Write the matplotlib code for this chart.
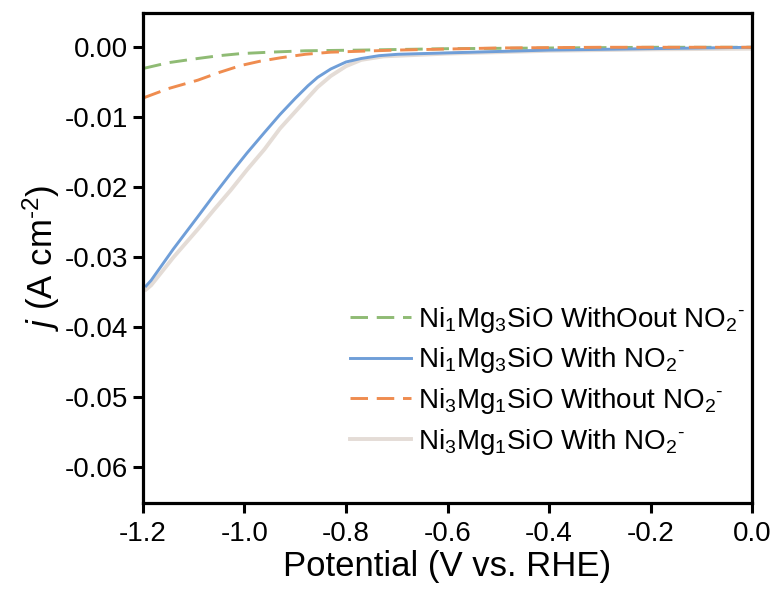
import matplotlib
matplotlib.use("Agg")
import matplotlib.pyplot as plt
import numpy as np

plt.rcParams["font.family"] = ["Liberation Sans", "DejaVu Sans"]
plt.rcParams["mathtext.fontset"] = "custom"
plt.rcParams["mathtext.rm"] = "Liberation Sans"
plt.rcParams["mathtext.it"] = "Liberation Sans:italic"

# Ni1Mg3SiO with NO2- (blue)
pot_blue = [-1.194, -1.184, -1.14, -1.092, -1.06, -1.027, -0.995, -0.961, -0.93, -0.90,
            -0.875, -0.856, -0.83, -0.80, -0.77, -0.735, -0.698, -0.6, -0.5, -0.4,
            -0.3, -0.2, -0.1, 0.0]
j_blue = [-0.0341, -0.0333, -0.0288, -0.0242, -0.0211, -0.0180, -0.0151, -0.0122,
          -0.0096, -0.0073, -0.0055, -0.0043, -0.0031, -0.0021, -0.0016, -0.0012,
          -0.0010, -0.0008, -0.0006, -0.0004, -0.0003, -0.0002, -0.0001, 0.0]

# Ni3Mg1SiO with NO2- (grey)
pot_grey = [-1.194, -1.184, -1.14, -1.092, -1.06, -1.027, -0.995, -0.961, -0.93, -0.90,
            -0.875, -0.856, -0.83, -0.80, -0.77, -0.726, -0.6, -0.4, -0.2, 0.0]
j_grey = [-0.0346, -0.0340, -0.0300, -0.0260, -0.0232, -0.0204, -0.0175, -0.0146,
          -0.0116, -0.0092, -0.0072, -0.0057, -0.0041, -0.0027, -0.0018, -0.0013,
          -0.0009, -0.0005, -0.0003, -0.0002]

# Ni1Mg3SiO without NO2- (green)
pot_green = [-1.198, -1.15, -1.092, -1.05, -1.007, -0.95, -0.88, -0.77, -0.6, -0.4,
             -0.2, 0.0]
j_green = [-0.0030, -0.0022, -0.0016, -0.0012, -0.0009, -0.0007, -0.0005, -0.0004,
           -0.0002, -0.0001, 0.0, 0.0]

# Ni3Mg1SiO without NO2- (orange)
pot_orange = [-1.198, -1.15, -1.092, -1.05, -1.007, -0.97, -0.929, -0.88, -0.83, -0.70,
              -0.5, -0.3, 0.0]
j_orange = [-0.0072, -0.0059, -0.0047, -0.0036, -0.0026, -0.0020, -0.0015, -0.0010,
            -0.0007, -0.0004, -0.0001, 0.0, 0.0]

minus = r"$^{\text{-}}$"
labels = [r"Ni$_1$Mg$_3$SiO WithOout NO$_2$" + minus,
          r"Ni$_1$Mg$_3$SiO With NO$_2$" + minus,
          r"Ni$_3$Mg$_1$SiO Without NO$_2$" + minus,
          r"Ni$_3$Mg$_1$SiO With NO$_2$" + minus]

xticks = [-1.2, -1.0, -0.8, -0.6, -0.4, -0.2, 0.0]
yticks = [-0.06, -0.05, -0.04, -0.03, -0.02, -0.01, 0.00]

fig = plt.figure(figsize=(7.78, 5.90), dpi=100)
ax = fig.add_axes([0.1838, 0.1475, 0.7828, 0.8305])

dash = (0, (6, 3))
ax.plot(pot_green, j_green, ls=dash, color="#8fbb74", lw=2.1, label=labels[0])
ax.plot(pot_blue, j_blue, color="#6f9ed8", lw=2.1, label=labels[1])
ax.plot(pot_orange, j_orange, ls=dash, color="#ef8c4f", lw=2.1, label=labels[2])
ax.plot(pot_grey, j_grey, color="#e4dcd6", lw=2.8, label=labels[3], zorder=1)

ax.set_xlim(-1.2, 0.0)
ax.set_ylim(-0.0651, 0.0049)
ax.set_xticks(xticks)
ax.set_xticklabels([f"{v:.1f}" for v in xticks])
ax.set_yticks(yticks)
ax.set_yticklabels([f"{v:.2f}" for v in yticks])
ax.tick_params(direction="out", length=7, width=2.2, labelsize=20)
ax.tick_params(axis="x", pad=6)
ax.tick_params(axis="y", pad=4)
for s in ax.spines.values():
    s.set_linewidth(2.3)

ax.set_xlabel("Potential (V vs. RHE)", fontsize=25, labelpad=2)
ax.set_ylabel(r"$j$ (A cm$^{\text{-2}}$)", fontsize=25, labelpad=2)

ax.legend(loc="upper left", frameon=False, fontsize=20, handlelength=2.2,
          labelspacing=0.38, handletextpad=0.25, borderaxespad=0,
          bbox_to_anchor=(0.321, 0.427))

fig.savefig("out.png", dpi=100)
